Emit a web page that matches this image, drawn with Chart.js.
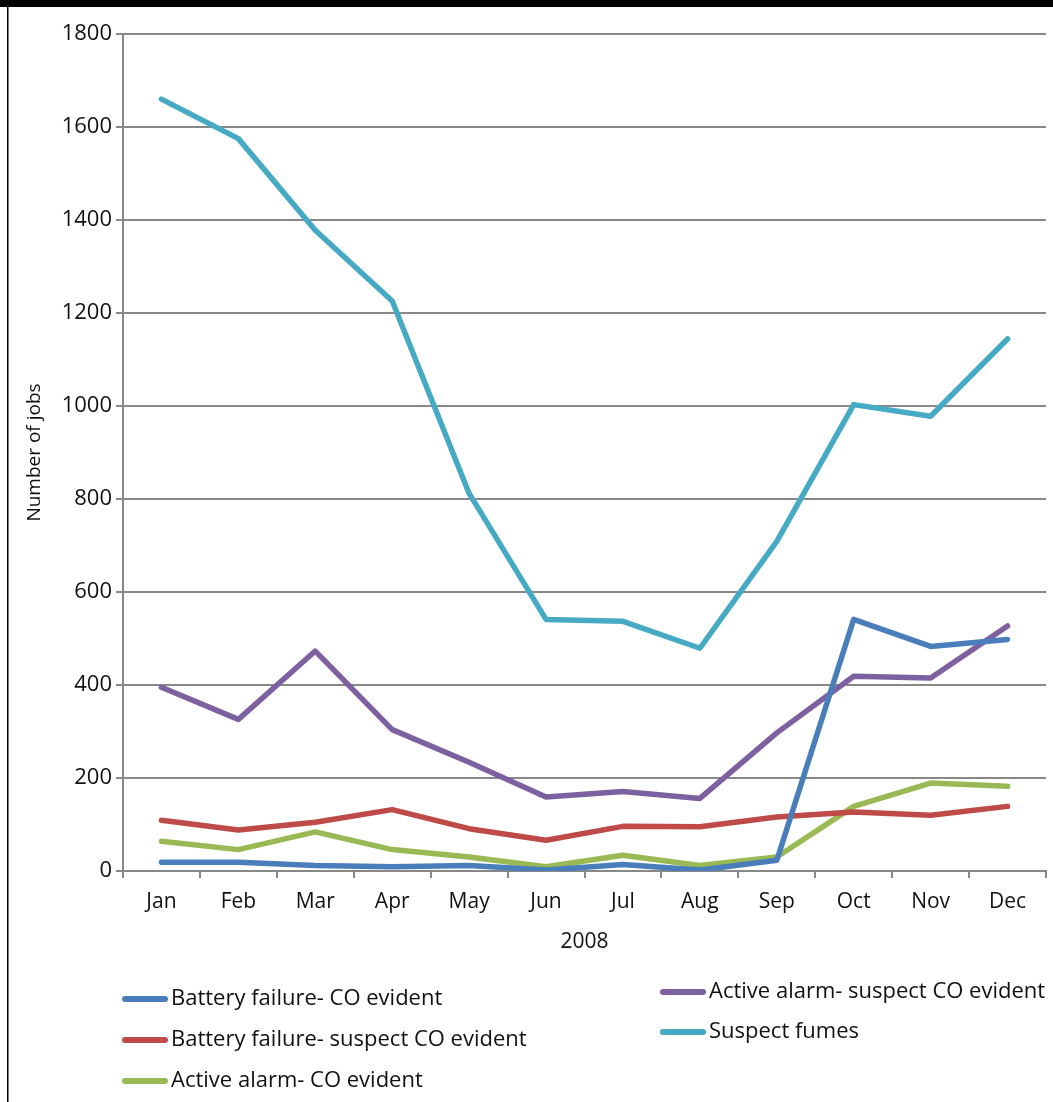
<!DOCTYPE html>
<html>
<head>
<meta charset="utf-8">
<script src="https://cdn.jsdelivr.net/npm/chart.js@4.4.0/dist/chart.umd.min.js"></script>
<style>
  html, body { margin: 0; padding: 0; background: #fff; }
  #wrap { position: relative; width: 1053px; height: 1102px; }
</style>
</head>
<body>
<div id="wrap"><canvas id="c" width="1053" height="1102"></canvas></div>
<script>
// Monthly job counts, 2008
const months = ['Jan','Feb','Mar','Apr','May','Jun','Jul','Aug','Sep','Oct','Nov','Dec'];
const yTicks = [0, 200, 400, 600, 800, 1000, 1200, 1400, 1600, 1800];

const batteryCO        = [19, 19, 12, 9, 12, 2, 14, 2, 23, 541, 483, 498];
const batterySuspectCO = [109, 88, 105, 132, 91, 66, 96, 95, 116, 127, 120, 139];
const alarmCO          = [64, 46, 84, 46, 30, 9, 34, 12, 30, 139, 189, 182];
const alarmSuspectCO   = [395, 326, 473, 304, 234, 159, 171, 156, 297, 419, 415, 527];
const suspectFumes     = [1660, 1575, 1378, 1226, 812, 541, 537, 479, 709, 1003, 978, 1144];

const seriesNames = [
  'Battery failure- CO evident',
  'Battery failure- suspect CO evident',
  'Active alarm- CO evident',
  'Active alarm- suspect CO evident',
  'Suspect fumes'
];
const seriesColors = ['#4a7ebb', '#be4b48', '#98b954', '#7d60a0', '#46aac5'];
const seriesValues = [batteryCO, batterySuspectCO, alarmCO, alarmSuspectCO, suspectFumes];

const FONT = '"Open Sans", "Noto Sans", sans-serif';
const GRID = '#888888';

// Frame lines along the top and left edges
const framePlugin = {
  id: 'frame',
  beforeDraw(chart) {
    const ctx = chart.ctx;
    ctx.save();
    ctx.fillStyle = '#fff';
    ctx.fillRect(0, 0, chart.width, chart.height);
    ctx.fillStyle = '#000';
    ctx.fillRect(0, 0, chart.width, 7);
    ctx.fillRect(7, 0, 1.5, chart.height);
    ctx.restore();
  }
};

// Two-column legend below the axis
const legendPlugin = {
  id: 'twoColLegend',
  afterDraw(chart) {
    const ctx = chart.ctx;
    const slots = [
      { x: 125, y: 999 },
      { x: 125, y: 1040 },
      { x: 125, y: 1081 },
      { x: 663, y: 992 },
      { x: 663, y: 1032 }
    ];
    ctx.save();
    ctx.font = '22px ' + FONT;
    ctx.textBaseline = 'middle';
    ctx.fillStyle = '#111';
    chart.data.datasets.forEach((ds, i) => {
      const s = slots[i];
      ctx.strokeStyle = ds.borderColor;
      ctx.lineWidth = 6;
      ctx.lineCap = 'round';
      ctx.beginPath();
      ctx.moveTo(s.x, s.y);
      ctx.lineTo(s.x + 40, s.y);
      ctx.stroke();
      ctx.fillText(ds.label, s.x + 46, s.y);
    });
    ctx.restore();
  }
};

new Chart(document.getElementById('c'), {
  type: 'line',
  data: {
    labels: months,
    datasets: seriesValues.map((vals, i) => ({
      label: seriesNames[i],
      data: vals,
      borderColor: seriesColors[i],
      backgroundColor: seriesColors[i],
      borderWidth: 5.5,
      borderCapStyle: 'round',
      borderJoinStyle: 'round',
      pointRadius: 0,
      tension: 0,
      fill: false
    }))
  },
  options: {
    responsive: false,
    animation: false,
    devicePixelRatio: 1,
    layout: { padding: { top: 34, right: 7, left: 0, bottom: 0 } },
    plugins: {
      legend: { display: false },
      tooltip: { enabled: false }
    },
    scales: {
      x: {
        offset: true,
        grid: {
          offset: true,
          drawOnChartArea: false,
          drawTicks: true,
          tickLength: 7,
          color: GRID,
          lineWidth: 2
        },
        border: { color: GRID, width: 2 },
        ticks: {
          color: '#111',
          font: { family: FONT, size: 21 },
          padding: 11,
          maxRotation: 0,
          autoSkip: false
        },
        title: {
          display: true,
          text: '2008',
          color: '#111',
          font: { family: FONT, size: 21 },
          padding: { top: 0, bottom: 147 }
        },
        afterFit(scale) { scale.height = 231; }
      },
      y: {
        min: 0,
        max: 1800,
        afterBuildTicks(scale) { scale.ticks = yTicks.map(v => ({ value: v })); },
        grid: {
          color: GRID,
          lineWidth: 2,
          drawTicks: true,
          tickLength: 7
        },
        border: { color: GRID, width: 2 },
        ticks: {
          color: '#111',
          font: { family: FONT, size: 22 },
          padding: 4,
          callback: (v) => String(v)
        },
        title: {
          display: true,
          text: 'Number of jobs',
          color: '#111',
          font: { family: FONT, size: 19 },
          padding: { top: 23, bottom: 0 }
        },
        afterFit(scale) { scale.width = 123; }
      }
    }
  },
  plugins: [framePlugin, legendPlugin]
});
</script>
</body>
</html>
